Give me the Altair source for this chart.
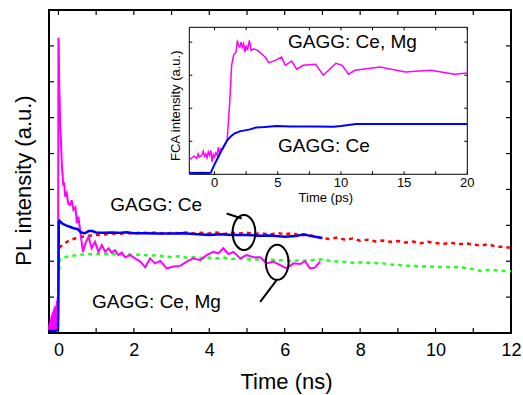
import altair as alt
import pandas as pd

# ---------------- main panel: PL intensity vs time (ns) ----------------
# GAGG: Ce, Mg  (magenta, solid)
mg_t = [-0.25, -0.24, -0.23, -0.22, -0.21, -0.20, -0.19, -0.18, -0.17, -0.16,
        -0.15, -0.14, -0.13, -0.12, -0.11, -0.10, -0.09, -0.08, -0.07, -0.06,
        -0.05, -0.04, -0.03, -0.02, -0.01, 0.0, 0.005, 0.02, 0.045, 0.07,
        0.09, 0.11, 0.13, 0.15, 0.18, 0.22, 0.26, 0.31, 0.35, 0.40,
        0.45, 0.49, 0.53, 0.58, 0.65, 0.73, 0.80, 0.88, 0.97, 1.06,
        1.15, 1.24, 1.33, 1.41, 1.50, 1.59, 1.68, 1.77, 1.90, 2.03,
        2.17, 2.30, 2.43, 2.56, 2.70, 2.87, 3.05, 3.23, 3.40, 3.58,
        3.76, 3.93, 4.11, 4.24, 4.37, 4.51, 4.64, 4.82, 4.99, 5.17,
        5.35, 5.52, 5.70, 5.88, 6.05, 6.23, 6.41, 6.54, 6.67, 6.80, 6.94]
mg_v = [0.08, 0.25, 0.06, 0.32, 0.07, 0.40, 0.08, 0.48, 0.06, 0.55,
        0.09, 0.60, 0.07, 0.66, 0.10, 0.72, 0.08, 0.76, 0.12, 0.74,
        0.10, 0.90, 0.15, 1.00, 0.30, 8.2, 8.2, 7.0, 5.9, 5.3,
        4.7, 4.4, 4.1, 4.2, 3.8, 3.9, 3.6, 3.57, 3.7, 3.43,
        3.5, 3.06, 3.24, 2.82, 2.26, 2.54, 2.68, 2.36, 2.54, 2.26,
        2.45, 2.26, 2.36, 2.24, 2.31, 2.17, 2.24, 2.11, 2.17, 2.08,
        1.99, 1.83, 2.08, 1.94, 2.01, 1.80, 1.85, 1.87, 1.99, 2.08,
        2.03, 2.17, 2.26, 2.22, 2.36, 2.20, 2.26, 2.08, 2.17, 2.11,
        2.11, 1.94, 1.99, 1.89, 1.80, 1.94, 1.92, 2.00, 1.80, 1.82, 1.99]

# GAGG: Ce  (blue, solid)
ce_t = [-0.25, -0.15, -0.05, -0.01, 0.0, 0.01, 0.03, 0.1, 0.2, 0.3, 0.4, 0.5,
        0.6, 0.7, 0.8, 0.9, 1.0, 1.2, 1.4, 1.6, 1.8, 2.0, 2.3, 2.6, 3.0, 3.3,
        3.6, 4.0, 4.3, 4.6, 5.0, 5.3, 5.6, 6.0, 6.3, 6.5, 6.7, 7.0]
ce_v = [0.06, 0.05, 0.07, 0.10, 1.0, 3.10, 3.13, 3.05, 3.00, 2.96, 2.92, 2.90,
        2.80, 2.78, 2.84, 2.84, 2.80, 2.79, 2.80, 2.79, 2.81, 2.78, 2.78, 2.77, 2.77, 2.78,
        2.76, 2.73, 2.75, 2.73, 2.73, 2.71, 2.72, 2.68, 2.70, 2.75, 2.70, 2.65]

# red dotted trace
red_t = [0.02, 0.1, 0.2, 0.3, 0.4, 0.5, 0.6, 0.8, 1.0, 1.2, 1.4, 1.6, 1.8, 2.0,
         2.2, 2.4, 2.6, 2.8, 3.0, 3.2, 3.4, 3.6, 3.8, 4.0, 4.2, 4.4, 4.6, 4.8,
         5.0, 5.2, 5.4, 5.6, 5.8, 6.0, 6.2, 6.4, 6.6, 6.8, 7.0, 7.2, 7.4, 7.6,
         7.8, 8.0, 8.2, 8.4, 8.6, 8.8, 9.0, 9.2, 9.4, 9.6, 9.8, 10.0, 10.2,
         10.4, 10.6, 10.8, 11.0, 11.2, 11.4, 11.6, 11.8, 12.0]
red_v = [2.37, 2.45, 2.52, 2.59, 2.62, 2.66, 2.68, 2.71, 2.73, 2.74, 2.77, 2.76, 2.79, 2.77,
         2.80, 2.78, 2.80, 2.77, 2.79, 2.78, 2.80, 2.77, 2.79, 2.77, 2.80, 2.76, 2.79, 2.77,
         2.79, 2.76, 2.78, 2.74, 2.79, 2.75, 2.78, 2.72, 2.74, 2.69, 2.64, 2.62, 2.66, 2.60,
         2.63, 2.57, 2.60, 2.55, 2.58, 2.54, 2.56, 2.52, 2.55, 2.50, 2.54, 2.51, 2.48,
         2.52, 2.47, 2.50, 2.46, 2.44, 2.47, 2.41, 2.40, 2.37]

# green dotted trace
grn_t = [0.02, 0.04, 0.1, 0.2, 0.3, 0.5, 0.7, 1.0, 1.2, 1.4, 1.6, 1.8, 2.0, 2.2,
         2.4, 2.6, 2.8, 3.0, 3.2, 3.4, 3.6, 3.8, 4.0, 4.2, 4.4, 4.6, 4.8, 5.0,
         5.2, 5.4, 5.6, 5.8, 6.0, 6.2, 6.4, 6.6, 6.8, 7.0, 7.2, 7.4, 7.6, 7.8,
         8.0, 8.2, 8.4, 8.6, 8.8, 9.0, 9.2, 9.4, 9.6, 9.8, 10.0, 10.2, 10.4,
         10.6, 10.8, 11.0, 11.2, 11.4, 11.6, 11.8, 12.0]
grn_v = [1.75, 2.06, 2.08, 2.12, 2.14, 2.17, 2.19, 2.20, 2.19, 2.21, 2.18, 2.20, 2.17, 2.19,
         2.15, 2.17, 2.13, 2.12, 2.14, 2.10, 2.12, 2.09, 2.10, 2.08, 2.10, 2.06, 2.08, 2.05,
         2.06, 2.03, 2.05, 2.02, 2.03, 2.00, 2.03, 2.01, 2.04, 2.05, 2.01, 1.99, 1.98, 1.96,
         1.97, 1.96, 1.95, 1.94, 1.91, 1.90, 1.87, 1.88, 1.85, 1.86, 1.84, 1.84, 1.83,
         1.84, 1.81, 1.78, 1.73, 1.76, 1.75, 1.73, 1.72]

main_xticks = [0, 1, 2, 3, 4, 5, 6, 7, 8, 9, 10, 11, 12]
main_xlabels = [0, 2, 4, 6, 8, 10, 12]
main_yticks = [1, 2, 3, 4, 5, 6, 7, 8]

label_text = ["GAGG: Ce", "GAGG: Ce, Mg"]
label_t = [2.59, 2.60]
label_v = [3.57, 0.86]

ellipse_t = [4.92, 5.80]
ellipse_v = [2.80, 1.97]
pointer_t1 = [4.46, 5.35]
pointer_v1 = [3.33, 0.87]
pointer_t2 = [4.86, 5.79]
pointer_v2 = [3.19, 1.48]

# ---------------- inset: FCA intensity vs time (ps) ----------------
fmg_t = [-2.0, -1.8, -1.6, -1.4, -1.3, -1.2, -1.0, -0.9, -0.8, -0.7, -0.6, -0.5,
         -0.4, -0.3, -0.2, -0.1, 0.0, 0.1, 0.2, 0.3, 0.4, 0.5, 0.6, 0.8, 1.0,
         1.2, 1.35, 1.5, 1.7, 1.8, 1.9, 2.0, 2.1, 2.2, 2.3, 2.4, 2.5, 2.6, 2.75,
         2.9, 3.1, 3.4, 3.7, 4.0, 4.3, 4.8, 5.3, 5.6, 6.1, 6.5, 7.0, 8.0, 8.6,
         9.6, 10.1, 10.6, 11.1, 13.1, 15.1, 17.1, 19.0, 20.0]
fmg_v = [0.42, 0.50, 0.55, 0.48, 0.62, 0.52, 0.58, 0.70, 0.55, 0.62, 0.50, 0.68,
         0.58, 0.72, 0.38, 0.60, 0.52, 0.65, 0.58, 0.82, 0.62, 0.78, 0.75, 0.90, 1.05,
         2.20, 3.30, 3.60, 3.70, 4.05, 3.90, 3.85, 4.00, 3.85, 3.95, 3.70, 3.90, 3.75, 4.05,
         3.75, 3.80, 3.75, 3.65, 3.55, 3.38, 3.45, 3.55, 3.30, 3.43, 3.18, 3.30, 3.33, 3.00,
         3.36, 3.30, 3.03, 3.15, 3.25, 3.10, 3.15, 3.03, 3.07]

fce_t = [-2.0, -1.5, -1.0, -0.5, -0.3, 0.0, 0.5, 1.0, 1.3, 1.6, 2.0, 2.4, 2.8,
         3.3, 4.0, 4.9, 6.0, 8.0, 9.4, 10.0, 11.2, 15.0, 20.0]
fce_v = [0.05, 0.04, 0.05, 0.04, 0.05, 0.30, 0.68, 1.03, 1.15, 1.24, 1.30, 1.33, 1.36,
         1.42, 1.43, 1.46, 1.45, 1.45, 1.44, 1.46, 1.52, 1.52, 1.52]

inset_xticks = [0, 2.5, 5, 7.5, 10, 12.5, 15, 17.5, 20]
inset_xlabels = [0, 5, 10, 15, 20]
inset_yticks = [1, 2, 3, 4]

inset_label_text = ["GAGG: Ce, Mg", "GAGG: Ce"]
inset_label_t = [10.91, 8.65]
inset_label_v = [4.02, 0.86]

FONT = "Liberation Sans"
W, H = 462, 323

# ---------------- scales & axes ----------------
XS = alt.Scale(domain=[-0.25, 12], nice=False, zero=False)
YS = alt.Scale(domain=[0, 9], nice=False, zero=False)
XI = alt.Scale(domain=[-2, 20], range=[140.3, 418.3], nice=False, zero=False)
YI = alt.Scale(domain=[0, 4.45], range=[164.3, 17.3], nice=False, zero=False)

x_axis = alt.Axis(values=main_xlabels, title="Time (ns)", grid=False, domain=False,
                  ticks=False, tickSize=0, labelPadding=8, labelFontSize=18,
                  labelFont=FONT, labelColor="black", titleFont=FONT, titleFontSize=22,
                  titleFontWeight="normal", titleColor="black", titleX=237, titleY=48,
                  titleAlign="center", titleBaseline="middle", labelFlush=False)
y_axis = alt.Axis(title="PL intensity (a.u.)", grid=False, domain=False, ticks=False,
                  tickSize=0, labels=False, titleFont=FONT, titleFontSize=22,
                  titleFontWeight="normal", titleColor="black", titleAngle=270,
                  titleX=-26, titleY=170, titleAlign="center", titleBaseline="middle")


def mx(f):
    return alt.X(f, type="quantitative", scale=XS, axis=x_axis)


def my(f):
    return alt.Y(f, type="quantitative", scale=YS, axis=y_axis)


def ix(f):
    return alt.X(f, type="quantitative", scale=XI, axis=None)


def iy(f):
    return alt.Y(f, type="quantitative", scale=YI, axis=None)


def df(t, v):
    return pd.DataFrame({"t": t, "v": v})


# ---------------- main layers ----------------
red = alt.Chart(df(red_t, red_v)).mark_line(color="#ff0000", strokeWidth=2.5,
                                             strokeDash=[4, 4]).encode(x=mx("t"), y=my("v"))
grn = alt.Chart(df(grn_t, grn_v)).mark_line(color="#22ff22", strokeWidth=2.5,
                                             strokeDash=[4, 4]).encode(x=mx("t"), y=my("v"))
mag = alt.Chart(df(mg_t, mg_v)).mark_line(color="#ff00ff", strokeWidth=2).encode(
    x=mx("t"), y=my("v"))
blu = alt.Chart(df(ce_t, ce_v)).mark_line(color="#0000ff", strokeWidth=2.5).encode(
    x=mx("t"), y=my("v"))

xt = pd.DataFrame({"t": main_xticks})
yt = pd.DataFrame({"v": main_yticks})
tick_kw = dict(color="black", strokeWidth=1.2)
tb = alt.Chart(xt).mark_rule(**tick_kw).encode(x=mx("t"), y=alt.value(H), y2=alt.value(H - 5))
tt = alt.Chart(xt).mark_rule(**tick_kw).encode(x=mx("t"), y=alt.value(0), y2=alt.value(5))
tl = alt.Chart(yt).mark_rule(**tick_kw).encode(y=my("v"), x=alt.value(0), x2=alt.value(5))
tr = alt.Chart(yt).mark_rule(**tick_kw).encode(y=my("v"), x=alt.value(W), x2=alt.value(W - 5))

ELL = "M0,-1A0.65,1,0,1,1,0,1A0.65,1,0,1,1,0,-1Z"
ell = alt.Chart(df(ellipse_t, ellipse_v)).mark_point(
    shape=ELL, size=1225, filled=False, color="black", strokeWidth=2, opacity=1
).encode(x=mx("t"), y=my("v"))

ptr = alt.Chart(pd.DataFrame({"t": pointer_t1, "v": pointer_v1, "t2": pointer_t2,
                              "v2": pointer_v2})).mark_rule(color="black", strokeWidth=2).encode(
    x=mx("t"), y=my("v"), x2="t2", y2="v2")

lab = alt.Chart(pd.DataFrame({"t": label_t, "v": label_v, "s": label_text})).mark_text(
    font=FONT, fontSize=19, color="black", align="center", baseline="middle"
).encode(x=mx("t"), y=my("v"), text="s:N")

main = alt.layer(red, grn, mag, blu, tb, tt, tl, tr, ell, ptr, lab)

# ---------------- inset layers ----------------
frame = alt.Chart(pd.DataFrame({"k": [0]})).mark_rect(
    fill="white", stroke="black", strokeWidth=1
).encode(x=alt.value(140.3), x2=alt.value(418.3), y=alt.value(17.3), y2=alt.value(164.3))

imag = alt.Chart(df(fmg_t, fmg_v)).mark_line(color="#ff00ff", strokeWidth=1.5).encode(
    x=ix("t"), y=iy("v"))
iblu = alt.Chart(df(fce_t, fce_v)).mark_line(color="#0000ff", strokeWidth=2).encode(
    x=ix("t"), y=iy("v"))

ixt = pd.DataFrame({"t": inset_xticks})
iyt = pd.DataFrame({"v": inset_yticks})
ik = dict(color="black", strokeWidth=1)
itb = alt.Chart(ixt).mark_rule(**ik).encode(x=ix("t"), y=alt.value(164.3), y2=alt.value(161.3))
itt = alt.Chart(ixt).mark_rule(**ik).encode(x=ix("t"), y=alt.value(17.3), y2=alt.value(20.3))
itl = alt.Chart(iyt).mark_rule(**ik).encode(y=iy("v"), x=alt.value(140.3), x2=alt.value(143.3))
itr = alt.Chart(iyt).mark_rule(**ik).encode(y=iy("v"), x=alt.value(418.3), x2=alt.value(415.3))

ixl = alt.Chart(pd.DataFrame({"t": inset_xlabels,
                              "s": [str(x) for x in inset_xlabels]})).mark_text(
    font=FONT, fontSize=13, color="black", align="center", baseline="middle"
).encode(x=ix("t"), y=alt.value(173.3), text="s:N")

ixtitle = alt.Chart(pd.DataFrame({"s": ["Time (ps)"]})).mark_text(
    font=FONT, fontSize=13, color="black", align="center", baseline="middle"
).encode(x=alt.value(276.8), y=alt.value(188), text="s:N")

iytitle = alt.Chart(pd.DataFrame({"s": ["FCA intensity (a.u.)"]})).mark_text(
    font=FONT, fontSize=13, color="black", align="center", baseline="middle", angle=270
).encode(x=alt.value(127), y=alt.value(95.8), text="s:N")

ilab = alt.Chart(pd.DataFrame({"t": inset_label_t, "v": inset_label_v,
                               "s": inset_label_text})).mark_text(
    font=FONT, fontSize=19, color="black", align="center", baseline="middle"
).encode(x=ix("t"), y=iy("v"), text="s:N")

inset = alt.layer(frame, imag, iblu, itb, itt, itl, itr, ixl, ixtitle, iytitle, ilab)

chart = alt.layer(main, inset).resolve_scale(x="independent", y="independent").properties(
    width=W, height=H,
    autosize=alt.AutoSizeParams(type="none"),
    padding={"left": 49, "top": 10, "right": 12, "bottom": 62},
    background="white",
).configure_view(stroke="black", strokeWidth=2)

chart.save("out.html", embed_options={"renderer": "svg", "actions": False})
